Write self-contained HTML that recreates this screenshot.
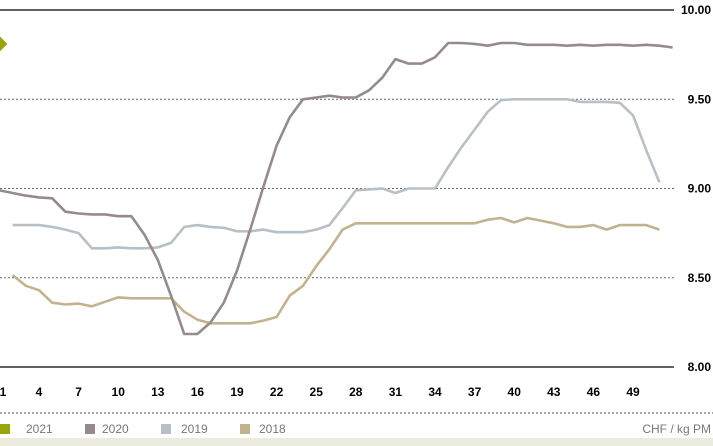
<!DOCTYPE html>
<html><head><meta charset="utf-8">
<style>
html,body{margin:0;padding:0;background:#fff;width:713px;height:446px;overflow:hidden;font-family:"Liberation Sans",sans-serif;}
svg{display:block}
</style></head>
<body>
<svg id="chart" width="713" height="446" viewBox="0 0 713 446" xmlns="http://www.w3.org/2000/svg">
<rect x="0" y="438" width="713" height="8" fill="#ebebdf"/>
<g id="grid"></g>
<g id="series"></g>
<g id="xticks"></g>
<g id="yticks"></g>
<line x1="0" y1="413" x2="713" y2="413" stroke="#555" stroke-width="1" stroke-dasharray="2,2"/>
<g font-size="12" fill="#777">
  <g><rect x="0" y="424" width="10" height="10" fill="#9aa50a"/><text x="26" y="433">2021</text></g>
  <g><rect x="85" y="424" width="10" height="10" fill="#968b8b"/><text x="102" y="433">2020</text></g>
  <g><rect x="161" y="424" width="10" height="10" fill="#b8c0c6"/><text x="181" y="433">2019</text></g>
  <g><rect x="240" y="424" width="10" height="10" fill="#c2b38e"/><text x="259" y="433">2018</text></g>
  <text x="711" y="433" text-anchor="end">CHF / kg PM</text>
</g>
</svg>
<script>
const xTickLabels = [1,4,7,10,13,16,19,22,25,28,31,34,37,40,43,46,49];
const yTickValues = [8.00,8.50,9.00,9.50,10.00];
const s2021 = [9.81];
const s2020 = [8.99,8.975,8.96,8.95,8.945,8.87,8.86,8.855,8.855,8.845,8.845,8.74,8.60,8.40,8.185,8.185,8.25,8.36,8.54,8.77,9.01,9.24,9.40,9.50,9.51,9.52,9.51,9.51,9.55,9.62,9.725,9.70,9.70,9.735,9.815,9.815,9.81,9.80,9.815,9.815,9.805,9.805,9.805,9.80,9.805,9.80,9.805,9.805,9.80,9.805,9.80,9.79];
const s2019 = [null,8.795,8.795,8.795,8.785,8.77,8.75,8.665,8.665,8.67,8.665,8.665,8.67,8.695,8.785,8.795,8.785,8.78,8.76,8.76,8.77,8.755,8.755,8.755,8.77,8.795,8.89,8.99,8.995,9.0,8.975,9.0,9.0,9.0,9.12,9.23,9.33,9.43,9.495,9.50,9.50,9.50,9.50,9.50,9.485,9.485,9.485,9.48,9.41,9.215,9.035];
const s2018 = [null,8.515,8.455,8.43,8.36,8.35,8.355,8.34,8.365,8.39,8.385,8.385,8.385,8.385,8.31,8.265,8.245,8.245,8.245,8.245,8.26,8.28,8.40,8.455,8.565,8.66,8.77,8.805,8.805,8.805,8.805,8.805,8.805,8.805,8.805,8.805,8.805,8.825,8.835,8.81,8.835,8.82,8.805,8.785,8.785,8.795,8.77,8.795,8.795,8.795,8.77];

const NS = "http://www.w3.org/2000/svg";
function x(w){ return 633 - (49 - w) * 13.2; }
function y(v){ return 10 + (10 - v) * 178.5; }
function mk(tag, attrs, parent){ const e=document.createElementNS(NS,tag); for(const k in attrs) e.setAttribute(k,attrs[k]); parent.appendChild(e); return e; }

const grid=document.getElementById('grid');
const yt=document.getElementById('yticks');
yTickValues.forEach(v=>{
  const solid = (v===10||v===8);
  const l=mk('line',{x1:0,x2:674,y1:y(v),y2:y(v),stroke:solid?'#000':'#666','stroke-width':solid?1.3:1,'stroke-dasharray':solid?'none':'2,2'},grid);
  
  
  const t=mk('text',{x:711,y:y(v)+4,'text-anchor':'end','font-size':12,'font-weight':'bold',fill:'#000'},yt);
  t.textContent=v.toFixed(2);
  
  
});
const xt=document.getElementById('xticks');
xTickLabels.forEach(w=>{
  const t=mk('text',{x:Math.max(x(w),3),y:396,'text-anchor':'middle','font-size':12,'font-weight':'bold',fill:'#000'},xt);
  t.textContent=w;
  
  
});
const sg=document.getElementById('series');
function line(data,color,name){
  let d='';
  data.forEach((v,i)=>{ if(v==null) return; d += (d?'L':'M') + x(i+1).toFixed(1)+','+y(v).toFixed(1); });
  const p=mk('path',{d:d,fill:'none',stroke:color,'stroke-width':2.6,'stroke-linejoin':'round'},sg);
  
  
}
line(s2018,'#c2b38e','line-2018');
line(s2019,'#b8c0c6','line-2019');
line(s2020,'#968b8b','line-2020');
s2021.forEach((v,i)=>{
  const cx=x(i+1), cy=y(v);
  const m=mk('polygon',{points:`${cx},${cy-8} ${cx+8},${cy} ${cx},${cy+8} ${cx-8},${cy}`,fill:'#9aa50a'},sg);
  
  
});
</script>
</body></html>
